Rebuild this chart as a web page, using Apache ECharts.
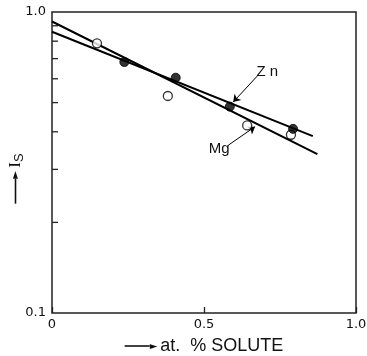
<!DOCTYPE html>
<html><head><meta charset="utf-8">
<script src="https://cdn.jsdelivr.net/npm/echarts@6/dist/echarts.min.js"></script>
<style>html,body{margin:0;padding:0;background:#fff}#c{width:367px;height:356px}</style>
</head><body><div id="c"></div>
<script>
// Data
const mgX = [0.148, 0.381, 0.642, 0.786];
const mgY = [0.787, 0.526, 0.420, 0.391];
const znX = [0.238, 0.407, 0.585, 0.793];
const znY = [0.682, 0.605, 0.485, 0.409];
const mgLineX = [0, 0.873];
const mgLineY = [0.93, 0.337];
const znLineX = [0, 0.858];
const znLineY = [0.86, 0.387];
const yMinorTicks = [0.2, 0.3, 0.4, 0.5, 0.6, 0.7, 0.8, 0.9];
const xTickLabels = {0: '0', 0.5: '0.5', 1: '1.0'};
const yTickLabels = {0.1: '0.1', 1: '1.0'};
// annotation anchors (data coords)
const znLabel = [0.708, 0.632], znArrow = [[0.678, 0.617], [0.596, 0.502]];
const mgLabel = [0.550, 0.351], mgArrow = [[0.580, 0.361], [0.668, 0.416]];

const zip = (a, b) => a.map((v, i) => [v, b[i]]);
const font = 'DejaVu Sans';
const arrowRich = {
  ln: {width: 25, height: 1.6, backgroundColor: '#111'},
  hd: {fontFamily: font, fontSize: 10, color: '#111'}
};
const chart = echarts.init(document.getElementById('c'), null, {renderer: 'canvas'});
chart.setOption({
  animation: false,
  backgroundColor: '#fff',
  grid: {left: 52, right: 11, top: 12, bottom: 43, containLabel: false, outerBoundsMode: 'none',
         show: true, borderColor: '#222', borderWidth: 1.5, backgroundColor: 'transparent'},
  xAxis: {
    type: 'value', min: 0, max: 1, interval: 0.5,
    axisLine: {show: false}, splitLine: {show: false},
    axisTick: {show: true, inside: true, length: 6, lineStyle: {color: '#222', width: 1.3}},
    axisLabel: {color: '#111', fontFamily: font, fontSize: 13, margin: 5, formatter: v => xTickLabels[v] ?? ''},
    name: '{ln|}{hd|►}{t|at.  % SOLUTE}', nameLocation: 'middle', nameGap: 24, nameMoveOverlap: false,
    nameTextStyle: {rich: Object.assign({
      t: {fontFamily: 'Liberation Sans', fontSize: 18, color: '#111', padding: [0, 0, 0, 3]}
    }, arrowRich)}
  },
  yAxis: {
    type: 'log', logBase: 10, min: 0.1, max: 1,
    axisLine: {show: false}, splitLine: {show: false}, axisTick: {show: false},
    axisLabel: {color: '#111', fontFamily: font, fontSize: 13, margin: 6, formatter: v => yTickLabels[Math.round(v * 10) / 10] ?? ''},
    name: '{ln|}{hd|►} {i|I}{s|S}{sp|}', nameLocation: 'middle', nameRotate: 90, nameGap: 26, nameMoveOverlap: false,
    nameTextStyle: {rich: Object.assign({
      i: {fontFamily: 'Liberation Serif', fontSize: 17, color: '#111'},
      s: {fontFamily: 'Liberation Sans', fontSize: 13, color: '#111', verticalAlign: 'bottom', padding: [8, 0, 0, 0]},
      sp: {width: 32, height: 1}
    }, arrowRich)}
  },
  series: [
    {type: 'custom', data: yMinorTicks.map(v => [0, v]), silent: true, clip: false, z: 3,
     renderItem: (params, api) => {
       const p = api.coord([0, api.value(1)]);
       return {type: 'line', shape: {x1: p[0], y1: p[1], x2: p[0] + 6, y2: p[1]}, style: {stroke: '#222', lineWidth: 1.3}};
     }},
    {type: 'line', data: zip(mgLineX, mgLineY), symbol: 'none', lineStyle: {color: '#000', width: 2}, z: 4,
     markLine: {silent: true, symbol: ['none', 'arrow'], symbolSize: 7, lineStyle: {color: '#000', width: 1, type: 'solid'}, label: {show: false},
       data: [[{coord: mgArrow[0]}, {coord: mgArrow[1]}]]},
     markPoint: {silent: true, symbol: 'circle', symbolSize: 1, itemStyle: {color: 'transparent'},
       label: {show: true, position: 'inside', formatter: 'Mg', color: '#111', fontFamily: 'Liberation Sans', fontSize: 15},
       data: [{coord: mgLabel}]}},
    {type: 'line', data: zip(znLineX, znLineY), symbol: 'none', lineStyle: {color: '#000', width: 2}, z: 4,
     markLine: {silent: true, symbol: ['none', 'arrow'], symbolSize: 7, lineStyle: {color: '#000', width: 1, type: 'solid'}, label: {show: false},
       data: [[{coord: znArrow[0]}, {coord: znArrow[1]}]]},
     markPoint: {silent: true, symbol: 'circle', symbolSize: 1, itemStyle: {color: 'transparent'},
       label: {show: true, position: 'inside', formatter: 'Z n', color: '#111', fontFamily: 'Liberation Sans', fontSize: 15},
       data: [{coord: znLabel}]}},
    {type: 'scatter', data: zip(mgX, mgY), symbol: 'circle', symbolSize: 9, z: 6,
     itemStyle: {color: '#fff', borderColor: '#000', borderWidth: 1.3}},
    {type: 'scatter', data: zip(znX, znY), symbol: 'circle', symbolSize: 9, z: 6,
     itemStyle: {color: '#000', borderColor: '#000', borderWidth: 1}}
  ]
});
</script></body></html>
